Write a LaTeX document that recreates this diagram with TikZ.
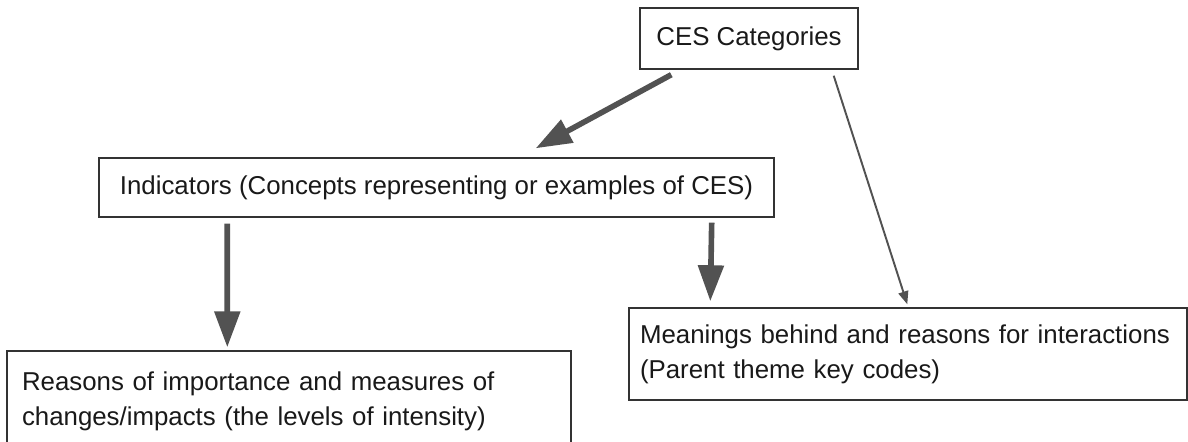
\documentclass[tikz,border=0pt]{standalone}
\usepackage{fontspec}
\setmainfont{Liberation Sans}
\usetikzlibrary{arrows.meta}

\begin{document}
\begin{tikzpicture}[
    box/.style={draw=black!80,line width=0.8pt,text=black!90,inner sep=0pt,
        font=\fontsize{14.7}{19.8}\selectfont},
    fat/.style={draw=black!68,line width=3.2pt,-{Triangle[length=0.72cm,width=0.5cm]}},
    thin/.style={draw=black!68,line width=1.1pt,-{Triangle[length=0.26cm,width=0.2cm]}}
]

    \useasboundingbox (0,0) rectangle (23.76,-8.84);

    \node[box,minimum width=4.36cm,minimum height=1.22cm] (ces) at (14.98,-0.77) {CES Categories};
    \node[box,minimum width=13.5cm,minimum height=1.18cm] (indic) at (8.73,-3.75)
        {Indicators (Concepts representing or examples of CES)};
    \node[box,minimum height=1.84cm,text width=10.72cm,inner xsep=0.22cm,align=left] (mean) at (18.16,-7.08)
        {Meanings behind and reasons for interactions\\(Parent theme key codes)};
    \node[box,minimum height=2.02cm,text width=10.68cm,inner xsep=0.3cm,align=left] (reas) at (5.78,-8.03)
        {Reasons of importance and measures of\\changes/impacts (the levels of intensity)};

    \draw[fat] ([xshift=0.64cm,yshift=-0.1cm]ces.south west) -- ([xshift=-4.78cm,yshift=0.18cm]indic.north east);
    \draw[thin] ([xshift=-0.5cm,yshift=-0.12cm]ces.south east) -- ([xshift=5.58cm,yshift=0.06cm]mean.north west);
    \draw[fat] ([xshift=2.58cm,yshift=-0.12cm]indic.south west) -- ([xshift=4.42cm,yshift=0.06cm]reas.north west);
    \draw[fat] ([xshift=-1.26cm,yshift=-0.1cm]indic.south east) -- ([xshift=1.64cm,yshift=0.12cm]mean.north west);

\end{tikzpicture}
\end{document}
